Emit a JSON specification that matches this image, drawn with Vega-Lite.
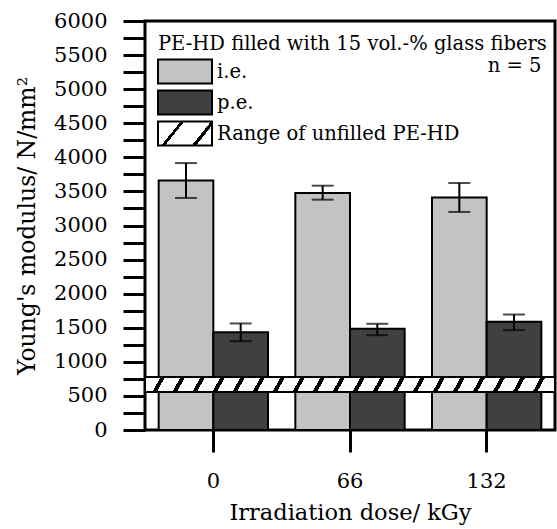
{
  "$schema": "https://vega.github.io/schema/vega-lite/v6.json",
  "width": 410,
  "height": 409,
  "autosize": {"type": "none"},
  "padding": {"left": 145, "top": 21, "right": 2, "bottom": 99},
  "config": {
    "font": "DejaVu Serif",
    "view": {"stroke": "black", "strokeWidth": 3},
    "axis": {
      "domain": false,
      "grid": false,
      "tickColor": "black",
      "tickWidth": 3,
      "tickSize": 22,
      "labelFont": "DejaVu Serif",
      "labelFontSize": 21,
      "labelColor": "black",
      "titleFont": "DejaVu Serif",
      "titleFontSize": 23.5,
      "titleFontWeight": "normal",
      "titleColor": "black"
    },
    "axisX": {"titleFontSize": 22.5},
    "legend": {
      "orient": "none",
      "legendX": 13,
      "legendY": 14,
      "padding": 0,
      "symbolType": "M-1.074,-0.888H2.926V0.888H-1.074Z",
      "symbolSize": 729,
      "symbolStrokeColor": "black",
      "symbolStrokeWidth": 2,
      "labelFont": "DejaVu Serif",
      "labelFontSize": 19.5,
      "labelColor": "black",
      "labelOffset": 30,
      "labelLimit": 400,
      "titleFont": "DejaVu Serif",
      "titleFontSize": 19.5,
      "titleFontWeight": "normal",
      "titleColor": "black",
      "titleLimit": 1000,
      "titleAnchor": "start",
      "titleAlign": "left",
      "titlePadding": 2.5
    }
  },
  "datasets": {
    "bars": [
      {"dose": "0", "series": "i.e.", "modulus": 3660, "lo": 3404, "hi": 3916},
      {"dose": "0", "series": "p.e.", "modulus": 1433, "lo": 1303, "hi": 1563},
      {"dose": "66", "series": "i.e.", "modulus": 3477, "lo": 3379, "hi": 3584},
      {"dose": "66", "series": "p.e.", "modulus": 1485, "lo": 1391, "hi": 1558},
      {"dose": "132", "series": "i.e.", "modulus": 3412, "lo": 3199, "hi": 3623},
      {"dose": "132", "series": "p.e.", "modulus": 1588, "lo": 1465, "hi": 1694}
    ],
    "band": [
      {"label": "Range of unfilled PE-HD", "lo": 558, "hi": 776}
    ],
    "note": [
      {"dose": "132", "text": "n = 5", "pos": 5250}
    ]
  },
  "layer": [
    {
      "data": {"name": "bars"},
      "mark": {"type": "bar", "stroke": "black", "strokeWidth": 2},
      "encoding": {
        "x": {
          "field": "dose",
          "type": "nominal",
          "sort": ["0", "66", "132"],
          "scale": {"paddingInner": 0.2, "paddingOuter": 0.1},
          "axis": {"title": "Irradiation dose/ kGy", "labelAngle": 0, "labelPadding": 18, "titlePadding": 10}
        },
        "xOffset": {
          "field": "series",
          "type": "nominal",
          "sort": ["i.e.", "p.e."],
          "scale": {"paddingInner": 0, "paddingOuter": 0}
        },
        "y": {
          "field": "modulus",
          "type": "quantitative",
          "scale": {"domain": [0, 6000], "nice": false},
          "axis": {
            "title": "Young's modulus/ N/mm²",
            "values": [0, 250, 500, 750, 1000, 1250, 1500, 1750, 2000, 2250, 2500, 2750, 3000, 3250, 3500, 3750, 4000, 4250, 4500, 4750, 5000, 5250, 5500, 5750, 6000],
            "format": "d",
            "labelExpr": "datum.value % 500 === 0 ? datum.label : ''",
            "labelOverlap": false,
            "labelPadding": 16,
            "titlePadding": 14,
            "encode": {"ticks": {"update": {"x2": {"signal": "datum.value % 500 === 0 ? -22 : -8"}}}}
          }
        },
        "fill": {
          "field": "series",
          "type": "nominal",
          "scale": {
            "domain": ["i.e.", "p.e.", "Range of unfilled PE-HD"],
            "range": ["#c3c3c3", "#404040", {"expr": "{gradient: 'linear', x1: 0, y1: 0, x2: 1, y2: 0.356, stops: [{offset: 0, color: 'white'}, {offset: 0.37, color: 'white'}, {offset: 0.37, color: 'black'}, {offset: 0.43, color: 'black'}, {offset: 0.43, color: 'white'}, {offset: 0.87, color: 'white'}, {offset: 0.87, color: 'black'}, {offset: 0.94, color: 'black'}, {offset: 0.94, color: 'white'}, {offset: 1, color: 'white'}]}"}]
          },
          "legend": {
            "title": "PE-HD filled with 15 vol.-% glass fibers",
            "rowPadding": -3,
            "encode": {"symbols": {"update": {"stroke": {"value": "black"}, "strokeWidth": {"value": 2}}}}
          }
        }
      }
    },
    {
      "data": {"name": "band"},
      "mark": {
        "type": "rect",
        "stroke": "black",
        "strokeWidth": 2,
        "fill": {
          "gradient": "linear",
          "x1": 0, "y1": 0, "x2": 1, "y2": 0.02,
          "stops": [
            {"offset": 0, "color": "white"},
            {"offset": 0.0378, "color": "white"}, {"offset": 0.0378, "color": "black"}, {"offset": 0.0488, "color": "black"}, {"offset": 0.0488, "color": "white"},
            {"offset": 0.0866, "color": "white"}, {"offset": 0.0866, "color": "black"}, {"offset": 0.0976, "color": "black"}, {"offset": 0.0976, "color": "white"},
            {"offset": 0.1354, "color": "white"}, {"offset": 0.1354, "color": "black"}, {"offset": 0.1464, "color": "black"}, {"offset": 0.1464, "color": "white"},
            {"offset": 0.1842, "color": "white"}, {"offset": 0.1842, "color": "black"}, {"offset": 0.1952, "color": "black"}, {"offset": 0.1952, "color": "white"},
            {"offset": 0.2330, "color": "white"}, {"offset": 0.2330, "color": "black"}, {"offset": 0.2440, "color": "black"}, {"offset": 0.2440, "color": "white"},
            {"offset": 0.2818, "color": "white"}, {"offset": 0.2818, "color": "black"}, {"offset": 0.2928, "color": "black"}, {"offset": 0.2928, "color": "white"},
            {"offset": 0.3306, "color": "white"}, {"offset": 0.3306, "color": "black"}, {"offset": 0.3416, "color": "black"}, {"offset": 0.3416, "color": "white"},
            {"offset": 0.3794, "color": "white"}, {"offset": 0.3794, "color": "black"}, {"offset": 0.3904, "color": "black"}, {"offset": 0.3904, "color": "white"},
            {"offset": 0.4282, "color": "white"}, {"offset": 0.4282, "color": "black"}, {"offset": 0.4392, "color": "black"}, {"offset": 0.4392, "color": "white"},
            {"offset": 0.4770, "color": "white"}, {"offset": 0.4770, "color": "black"}, {"offset": 0.4880, "color": "black"}, {"offset": 0.4880, "color": "white"},
            {"offset": 0.5258, "color": "white"}, {"offset": 0.5258, "color": "black"}, {"offset": 0.5368, "color": "black"}, {"offset": 0.5368, "color": "white"},
            {"offset": 0.5746, "color": "white"}, {"offset": 0.5746, "color": "black"}, {"offset": 0.5856, "color": "black"}, {"offset": 0.5856, "color": "white"},
            {"offset": 0.6234, "color": "white"}, {"offset": 0.6234, "color": "black"}, {"offset": 0.6344, "color": "black"}, {"offset": 0.6344, "color": "white"},
            {"offset": 0.6722, "color": "white"}, {"offset": 0.6722, "color": "black"}, {"offset": 0.6832, "color": "black"}, {"offset": 0.6832, "color": "white"},
            {"offset": 0.7210, "color": "white"}, {"offset": 0.7210, "color": "black"}, {"offset": 0.7320, "color": "black"}, {"offset": 0.7320, "color": "white"},
            {"offset": 0.7698, "color": "white"}, {"offset": 0.7698, "color": "black"}, {"offset": 0.7808, "color": "black"}, {"offset": 0.7808, "color": "white"},
            {"offset": 0.8186, "color": "white"}, {"offset": 0.8186, "color": "black"}, {"offset": 0.8296, "color": "black"}, {"offset": 0.8296, "color": "white"},
            {"offset": 0.8674, "color": "white"}, {"offset": 0.8674, "color": "black"}, {"offset": 0.8784, "color": "black"}, {"offset": 0.8784, "color": "white"},
            {"offset": 0.9162, "color": "white"}, {"offset": 0.9162, "color": "black"}, {"offset": 0.9272, "color": "black"}, {"offset": 0.9272, "color": "white"},
            {"offset": 0.9650, "color": "white"}, {"offset": 0.9650, "color": "black"}, {"offset": 0.9760, "color": "black"}, {"offset": 0.9760, "color": "white"},
            {"offset": 1, "color": "white"}
          ]
        }
      },
      "encoding": {
        "y": {
          "field": "lo",
          "type": "quantitative",
          "axis": {
            "title": "Young's modulus/ N/mm²",
            "values": [0, 250, 500, 750, 1000, 1250, 1500, 1750, 2000, 2250, 2500, 2750, 3000, 3250, 3500, 3750, 4000, 4250, 4500, 4750, 5000, 5250, 5500, 5750, 6000],
            "format": "d",
            "labelExpr": "datum.value % 500 === 0 ? datum.label : ''",
            "labelOverlap": false,
            "labelPadding": 16,
            "titlePadding": 14,
            "encode": {"ticks": {"update": {"x2": {"signal": "datum.value % 500 === 0 ? -22 : -8"}}}}
          }
        },
        "y2": {"field": "hi"}
      }
    },
    {
      "data": {"name": "bars"},
      "mark": {"type": "rule", "color": "black", "strokeWidth": 2},
      "encoding": {
        "x": {"field": "dose", "type": "nominal", "sort": ["0", "66", "132"], "axis": {"title": "Irradiation dose/ kGy", "labelAngle": 0, "labelPadding": 18, "titlePadding": 10}},
        "xOffset": {"field": "series", "type": "nominal", "sort": ["i.e.", "p.e."]},
        "y": {
          "field": "lo",
          "type": "quantitative",
          "axis": {
            "title": "Young's modulus/ N/mm²",
            "values": [0, 250, 500, 750, 1000, 1250, 1500, 1750, 2000, 2250, 2500, 2750, 3000, 3250, 3500, 3750, 4000, 4250, 4500, 4750, 5000, 5250, 5500, 5750, 6000],
            "format": "d",
            "labelExpr": "datum.value % 500 === 0 ? datum.label : ''",
            "labelOverlap": false,
            "labelPadding": 16,
            "titlePadding": 14,
            "encode": {"ticks": {"update": {"x2": {"signal": "datum.value % 500 === 0 ? -22 : -8"}}}}
          }
        },
        "y2": {"field": "hi"}
      }
    },
    {
      "data": {"name": "bars"},
      "mark": {"type": "tick", "color": "black", "size": 22, "thickness": 2, "orient": "horizontal"},
      "encoding": {
        "x": {"field": "dose", "type": "nominal", "sort": ["0", "66", "132"], "axis": {"title": "Irradiation dose/ kGy", "labelAngle": 0, "labelPadding": 18, "titlePadding": 10}},
        "xOffset": {"field": "series", "type": "nominal", "sort": ["i.e.", "p.e."]},
        "y": {
          "field": "lo",
          "type": "quantitative",
          "axis": {
            "title": "Young's modulus/ N/mm²",
            "values": [0, 250, 500, 750, 1000, 1250, 1500, 1750, 2000, 2250, 2500, 2750, 3000, 3250, 3500, 3750, 4000, 4250, 4500, 4750, 5000, 5250, 5500, 5750, 6000],
            "format": "d",
            "labelExpr": "datum.value % 500 === 0 ? datum.label : ''",
            "labelOverlap": false,
            "labelPadding": 16,
            "titlePadding": 14,
            "encode": {"ticks": {"update": {"x2": {"signal": "datum.value % 500 === 0 ? -22 : -8"}}}}
          }
        }
      }
    },
    {
      "data": {"name": "bars"},
      "mark": {"type": "tick", "color": "black", "size": 22, "thickness": 2, "orient": "horizontal"},
      "encoding": {
        "x": {"field": "dose", "type": "nominal", "sort": ["0", "66", "132"], "axis": {"title": "Irradiation dose/ kGy", "labelAngle": 0, "labelPadding": 18, "titlePadding": 10}},
        "xOffset": {"field": "series", "type": "nominal", "sort": ["i.e.", "p.e."]},
        "y": {
          "field": "hi",
          "type": "quantitative",
          "axis": {
            "title": "Young's modulus/ N/mm²",
            "values": [0, 250, 500, 750, 1000, 1250, 1500, 1750, 2000, 2250, 2500, 2750, 3000, 3250, 3500, 3750, 4000, 4250, 4500, 4750, 5000, 5250, 5500, 5750, 6000],
            "format": "d",
            "labelExpr": "datum.value % 500 === 0 ? datum.label : ''",
            "labelOverlap": false,
            "labelPadding": 16,
            "titlePadding": 14,
            "encode": {"ticks": {"update": {"x2": {"signal": "datum.value % 500 === 0 ? -22 : -8"}}}}
          }
        }
      }
    },
    {
      "data": {"name": "note"},
      "mark": {"type": "text", "align": "right", "baseline": "alphabetic", "font": "DejaVu Serif", "fontSize": 19.5, "color": "black"},
      "encoding": {
        "x": {"field": "dose", "type": "nominal", "sort": ["0", "66", "132"], "bandPosition": 1, "axis": {"title": "Irradiation dose/ kGy", "labelAngle": 0, "labelPadding": 18, "titlePadding": 10}},
        "y": {
          "field": "pos",
          "type": "quantitative",
          "axis": {
            "title": "Young's modulus/ N/mm²",
            "values": [0, 250, 500, 750, 1000, 1250, 1500, 1750, 2000, 2250, 2500, 2750, 3000, 3250, 3500, 3750, 4000, 4250, 4500, 4750, 5000, 5250, 5500, 5750, 6000],
            "format": "d",
            "labelExpr": "datum.value % 500 === 0 ? datum.label : ''",
            "labelOverlap": false,
            "labelPadding": 16,
            "titlePadding": 14,
            "encode": {"ticks": {"update": {"x2": {"signal": "datum.value % 500 === 0 ? -22 : -8"}}}}
          }
        },
        "text": {"field": "text"}
      }
    }
  ]
}
